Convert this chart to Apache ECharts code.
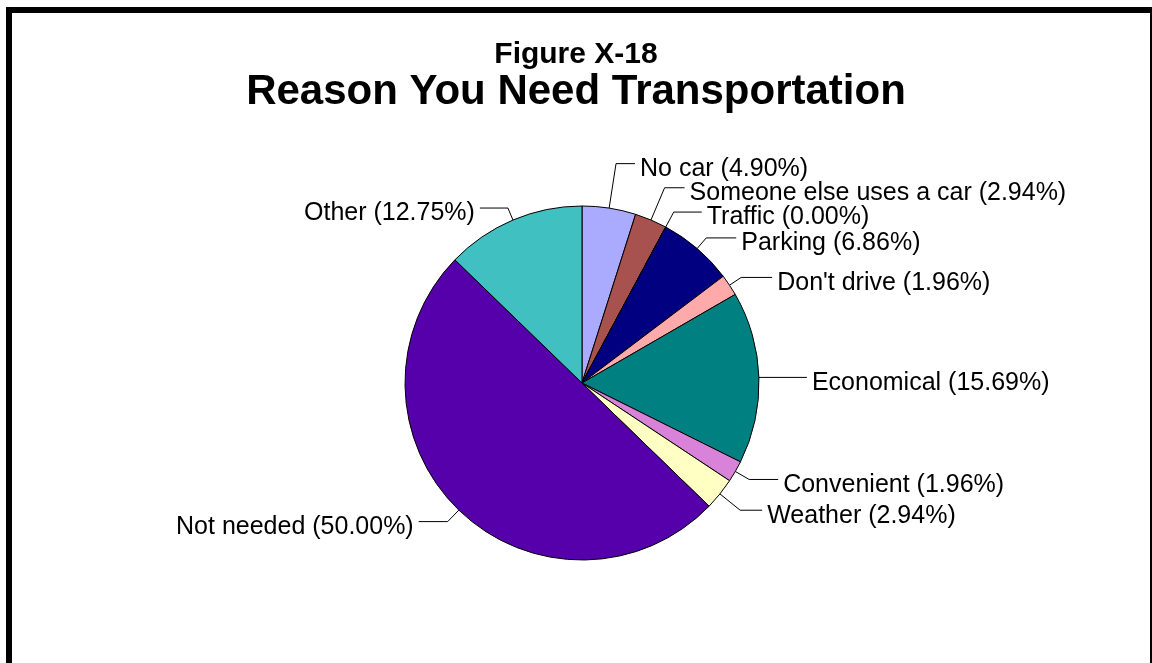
<!DOCTYPE html>
<html>
<head>
<meta charset="utf-8">
<script src="https://cdn.jsdelivr.net/npm/echarts@6/dist/echarts.min.js"></script>
<style>
  html, body { margin: 0; padding: 0; background: #fff; }
  #chart { width: 1152px; height: 663px; }
</style>
</head>
<body>
<div id="chart"></div>
<script>
// Survey answers: why the respondent needs transportation (percent)
const reasons = [
  'No car', 'Someone else uses a car', 'Traffic', 'Parking', "Don't drive",
  'Economical', 'Convenient', 'Weather', 'Not needed', 'Other'
];
const shares = [4.90, 2.94, 0.00, 6.86, 1.96, 15.69, 1.96, 2.94, 50.00, 12.75];
const sliceColors = [
  '#AAAAFF', '#A8524F', '#6E6EB0', '#000080', '#FFAAAA',
  '#008080', '#D982D9', '#FFFFC4', '#5500AA', '#40C0C0'
];
// leader line segments per slice: [radial part, horizontal part]
const leaderLengths = [
  [45, 19], [35, 20], [17, 28], [14, 30], [14, 31],
  [3, 45], [16, 29], [26, 22], [16, 29], [13, 28]
];

const figureTag = 'Figure X-18';
const chartTitle = 'Reason You Need Transportation';

const chart = echarts.init(document.getElementById('chart'), null, { renderer: 'canvas' });

chart.setOption({
  backgroundColor: '#ffffff',
  animation: false,
  title: [
    {
      text: figureTag,
      left: 'center',
      top: 35,
      textStyle: { fontFamily: 'Liberation Sans, Arial', fontWeight: 'bold', fontSize: 30, color: '#000' }
    },
    {
      text: chartTitle,
      left: 'center',
      top: 66,
      textStyle: { fontFamily: 'Liberation Sans, Arial', fontWeight: 'bold', fontSize: 42, color: '#000' }
    }
  ],
  graphic: [
    // frame around the figure (top, left and right edges)
    { type: 'rect', shape: { x: 6, y: 7, width: 1146, height: 6 }, style: { fill: '#000' } },
    { type: 'rect', shape: { x: 6, y: 7, width: 6, height: 656 }, style: { fill: '#000' } },
    { type: 'rect', shape: { x: 1150, y: 7, width: 2, height: 656 }, style: { fill: '#000' } }
  ],
  series: [{
    type: 'pie',
    center: [582, 383],
    radius: 177,
    startAngle: 90,
    clockwise: true,
    avoidLabelOverlap: false,
    minShowLabelAngle: 0,
    labelLayout: { hideOverlap: false },
    data: reasons.map((name, i) => ({
      name: name,
      value: shares[i],
      itemStyle: { color: sliceColors[i] },
      labelLine: { length: leaderLengths[i][0], length2: leaderLengths[i][1] }
    })),
    itemStyle: { borderColor: '#000', borderWidth: 1 },
    label: {
      show: true,
      position: 'outside',
      // an empty first line drops the text slightly below its leader line
      formatter: p => '\n' + p.name + ' (' + p.value.toFixed(2) + '%)',
      fontFamily: 'Liberation Sans, Arial',
      fontSize: 25,
      lineHeight: 11,
      color: '#000',
      distanceToLabelLine: 5
    },
    labelLine: {
      show: true,
      lineStyle: { color: '#000', width: 1 }
    },
    emphasis: { disabled: true }
  }]
});
</script>
</body>
</html>
